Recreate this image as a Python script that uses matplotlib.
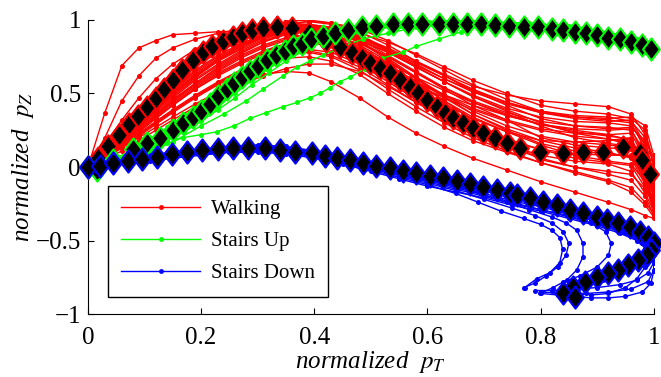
import numpy as np
import matplotlib
matplotlib.use("Agg")
import matplotlib.pyplot as plt
from matplotlib.path import Path
from matplotlib.lines import Line2D

plt.rcParams['font.family'] = ['Liberation Serif', 'DejaVu Serif']
plt.rcParams['mathtext.fontset'] = 'stix'

# ---- walking: individual trials on a shared x grid ----
x_walk = [0, 0.03, 0.06, 0.09, 0.12, 0.15, 0.19, 0.23, 0.27, 0.31, 0.35, 0.39, 0.43,
          0.48, 0.53, 0.58, 0.63, 0.68, 0.74, 0.80, 0.86, 0.92, 0.96, 0.985, 1.0]
walk_trials = [
    [0, .37, .69, .81, .86, .90, .91, .92, .92, .92, .91, .88, .83, .75, .66, .57, .49, .42, .35, .29, .25, .22, .18, .02, -.12],
    [0, .20, .45, .62, .74, .81, .87, .91, .94, .95, .95, .92, .86, .77, .66, .56, .47, .39, .31, .25, .21, .19, .15, -.02, -.18],
    [0, .12, .25, .37, .48, .58, .70, .80, .88, .95, .99, 1.0, .98, .92, .83, .72, .63, .55, .49, .45, .43, .41, .36, .22, .05],
    [0, .11, .23, .35, .46, .56, .68, .78, .86, .92, .97, .99, .97, .90, .80, .70, .60, .51, .43, .37, .34, .32, .30, .12, -.08],
    [0, .10, .21, .32, .42, .52, .64, .74, .83, .90, .95, .97, .95, .87, .76, .65, .54, .44, .35, .29, .26, .25, .26, .06, -.20],
    [0, .09, .19, .29, .39, .48, .60, .70, .79, .86, .91, .93, .91, .83, .72, .60, .49, .38, .28, .21, .17, .15, .13, -.04, -.25],
    [0, .08, .17, .26, .35, .44, .55, .65, .74, .81, .86, .88, .86, .78, .66, .54, .43, .33, .24, .18, .17, .18, .20, .00, -.30],
    [0, .07, .15, .23, .31, .39, .49, .58, .66, .73, .78, .80, .78, .70, .58, .46, .35, .25, .15, .08, .04, .02, -.03, -.18, -.30],
    [0, .06, .13, .20, .27, .34, .43, .51, .58, .63, .65, .64, .58, .47, .34, .23, .14, .06, -.02, -.10, -.17, -.24, -.29, -.33, -.35],
    [0, .10, .20, .30, .40, .50, .62, .73, .82, .89, .94, .96, .94, .88, .80, .71, .62, .53, .44, .37, .33, .31, .32, .15, -.15],
    [0, .09, .18, .27, .36, .45, .56, .66, .75, .82, .87, .90, .89, .84, .75, .64, .53, .42, .32, .20, .15, .13, .12, .02, -.10],
    [0, .08, .16, .24, .33, .42, .53, .63, .71, .78, .84, .86, .85, .80, .70, .58, .45, .32, .18, .05, .00, -.03, -.05, -.15, -.22],
    [0, .07, .14, .22, .30, .38, .48, .57, .65, .72, .77, .79, .76, .68, .56, .44, .34, .25, .18, .12, .09, .08, .08, -.10, -.28],
    [0, .11, .22, .33, .44, .54, .66, .76, .84, .90, .94, .96, .95, .91, .85, .77, .68, .59, .50, .42, .38, .36, .33, .25, .00],
    [0, .13, .27, .40, .51, .61, .72, .81, .88, .93, .96, .97, .95, .89, .79, .68, .58, .49, .40, .34, .31, .30, .28, .15, -.05],
    [0, .06, .13, .21, .29, .37, .47, .56, .64, .70, .74, .75, .72, .63, .50, .38, .27, .18, .10, .03, -.03, -.09, -.14, -.24, -.32],
    [0, .15, .32, .47, .60, .70, .80, .87, .92, .96, .98, .97, .93, .85, .75, .64, .54, .45, .37, .31, .28, .27, .25, .10, -.12],
    [0, .09, .19, .29, .39, .49, .61, .72, .81, .88, .93, .95, .94, .89, .81, .72, .62, .52, .42, .33, .28, .26, .27, .18, -.05],
    [0, .08, .17, .26, .35, .45, .57, .68, .77, .85, .91, .94, .93, .86, .74, .61, .48, .36, .25, .16, .11, .09, .07, -.08, -.26],
    [0, .07, .15, .24, .33, .42, .53, .62, .70, .77, .82, .84, .83, .77, .68, .58, .49, .40, .32, .26, .23, .22, .23, .05, -.18],
    [0, .12, .24, .36, .47, .57, .69, .79, .87, .93, .97, .99, .98, .94, .86, .76, .66, .56, .46, .38, .34, .33, .34, .28, .08],
    [0, .10, .20, .30, .40, .50, .62, .72, .80, .87, .92, .94, .92, .85, .73, .60, .47, .36, .26, .18, .13, .10, .06, -.12, -.30],
    [0, .05, .11, .18, .25, .32, .41, .49, .56, .62, .67, .70, .70, .65, .55, .44, .33, .23, .14, .06, .00, -.05, -.09, -.20, -.33],
    [0, .09, .18, .28, .38, .47, .59, .69, .78, .85, .90, .92, .91, .86, .78, .68, .58, .48, .39, .30, .23, .19, .17, .05, -.15],
    [0, .10, .21, .31, .41, .51, .63, .73, .82, .88, .92, .93, .90, .82, .70, .57, .45, .34, .24, .15, .08, .04, .02, -.10, -.22],
    [0, .08, .16, .25, .34, .43, .54, .64, .72, .79, .84, .86, .84, .76, .63, .50, .38, .28, .19, .12, .06, .03, .01, -.14, -.27],
    [0, .09, .18, .28, .37, .46, .57, .67, .76, .83, .88, .90, .88, .81, .71, .61, .52, .44, .36, .29, .24, .21, .19, -.05, -.20],
    [0, .11, .22, .33, .43, .53, .65, .75, .83, .89, .93, .95, .93, .87, .78, .68, .58, .48, .38, .28, .20, .16, .14, .00, -.16],
    [0, .07, .14, .22, .30, .38, .48, .57, .65, .71, .76, .78, .75, .66, .53, .41, .30, .20, .11, .03, -.04, -.10, -.17, -.26, -.34],
    [0, .12, .25, .38, .49, .59, .70, .79, .86, .91, .95, .96, .94, .88, .79, .69, .60, .52, .44, .38, .35, .34, .31, .20, .02],
]

# ---- stairs up: individual trials ----
x_up = [0, 0.02, 0.05, 0.08, 0.11, 0.14, 0.17, 0.2, 0.23, 0.26, 0.29, 0.32, 0.35, 0.38,
        0.42, 0.46, 0.5, 0.55, 0.6, 0.65, 0.7, 0.75, 0.8, 0.85, 0.9, 0.94, 0.97, 1.0]
up_trials = [
    [0, .01, .06, .12, .19, .27, .35, .43, .52, .61, .70, .77, .83, .87, .91, .94, .96, .98, .99, .99, .99, .98, .97, .95, .92, .89, .86, .83],
    [0, -.02, .03, .09, .15, .22, .29, .36, .44, .53, .62, .70, .77, .83, .88, .92, .95, .97, .98, .98, .98, .97, .96, .94, .91, .88, .85, .81],
    [0, -.03, .01, .06, .12, .18, .24, .31, .39, .47, .56, .64, .72, .79, .86, .90, .93, .96, .97, .97, .97, .97, .95, .93, .90, .87, .83, .79],
    [0, -.01, .04, .10, .16, .24, .32, .40, .49, .58, .66, .73, .80, .85, .89, .92, .95, .97, .98, .99, .98, .98, .97, .96, .93, .90, .86, .82],
    [0, -.02, .02, .07, .13, .19, .26, .33, .41, .50, .59, .67, .74, .80, .86, .91, .94, .96, .97, .98, .98, .97, .96, .94, .92, .89, .86, .82],
    [0, .00, .05, .11, .17, .25, .34, .42, .50, .59, .67, .74, .80, .85, .89, .93, .95, .97, .99, 1.0, .99, .98, .97, .95, .93, .90, .87, .84],
]
upA_x = [0, 0.04, 0.08, 0.11, 0.14, 0.168, 0.2, 0.228, 0.258, 0.286, 0.315, 0.345, 0.37, 0.392, 0.41, 0.428,
         0.445, 0.463, 0.49, 0.52, 0.556, 0.58, 0.62, 0.66, 0.687, 0.72, 0.78, 0.84, 0.9, 0.95, 1.0]
upA_y = [0, 0.03, 0.07, 0.11, 0.16, 0.2, 0.22, 0.24, 0.28, 0.33, 0.37, 0.41, 0.44, 0.47, 0.5, 0.54,
         0.58, 0.61, 0.67, 0.74, 0.78, 0.82, 0.87, 0.92, 0.95, 0.97, 0.98, 0.96, 0.92, 0.88, 0.84]
upB_x = [0, 0.05, 0.1, 0.15, 0.2, 0.24, 0.28, 0.31, 0.345, 0.37, 0.392, 0.415, 0.44, 0.465, 0.486,
         0.53, 0.58, 0.64, 0.7, 0.76, 0.82, 0.88, 0.93, 0.97, 1.0]
upB_y = [0, 0.03, 0.09, 0.17, 0.28, 0.36, 0.45, 0.53, 0.62, 0.68, 0.72, 0.76, 0.8, 0.84, 0.87,
         0.91, 0.95, 0.97, 0.98, 0.97, 0.95, 0.92, 0.88, 0.85, 0.81]

# ---- stairs down: individual trials ----
down_trials = [
    ([0, 0.03, 0.07, 0.11, 0.15, 0.2, 0.25, 0.3, 0.35, 0.4, 0.45, 0.5, 0.55, 0.6, 0.65, 0.7, 0.75, 0.8, 0.85, 0.9,
      0.94, 0.97, 0.99, 1.0, 0.995, 0.98, 0.96, 0.94, 0.91, 0.88, 0.85],
     [0, 0.02, 0.05, 0.08, 0.1, 0.12, 0.14, 0.15, 0.14, 0.11, 0.07, 0.03, -0.02, -0.06, -0.1, -0.14, -0.18, -0.23,
      -0.28, -0.33, -0.38, -0.43, -0.48, -0.54, -0.6, -0.65, -0.69, -0.73, -0.77, -0.81, -0.85]),
    ([0, 0.03, 0.07, 0.11, 0.15, 0.2, 0.25, 0.3, 0.35, 0.4, 0.45, 0.5, 0.55, 0.6, 0.65, 0.7, 0.75, 0.8, 0.85, 0.9,
      0.94, 0.97, 0.99, 1.0, 1.0, 0.995, 0.98, 0.95, 0.92, 0.89, 0.86, 0.83, 0.8],
     [0, 0.01, 0.03, 0.05, 0.07, 0.09, 0.11, 0.12, 0.11, 0.08, 0.04, 0.0, -0.05, -0.09, -0.13, -0.18, -0.23, -0.27,
      -0.32, -0.37, -0.42, -0.48, -0.55, -0.63, -0.71, -0.79, -0.85, -0.88, -0.89, -0.89, -0.88, -0.87, -0.86]),
    ([0, 0.03, 0.07, 0.11, 0.15, 0.2, 0.25, 0.3, 0.35, 0.4, 0.45, 0.5, 0.55, 0.6, 0.65, 0.7, 0.75, 0.8, 0.85, 0.89,
      0.93, 0.96, 0.98, 0.99, 0.985, 0.97, 0.95, 0.92, 0.89, 0.86],
     [0, 0.02, 0.04, 0.06, 0.08, 0.1, 0.12, 0.13, 0.12, 0.1, 0.06, 0.02, -0.03, -0.08, -0.12, -0.16, -0.21, -0.26,
      -0.31, -0.36, -0.41, -0.46, -0.52, -0.6, -0.68, -0.76, -0.82, -0.86, -0.87, -0.86]),
    ([0, 0.03, 0.07, 0.11, 0.15, 0.2, 0.25, 0.3, 0.35, 0.4, 0.45, 0.5, 0.55, 0.6, 0.65, 0.69, 0.73, 0.77, 0.8,
      0.82, 0.834, 0.839, 0.834, 0.816, 0.793, 0.772],
     [0, 0.01, 0.03, 0.05, 0.07, 0.09, 0.1, 0.11, 0.1, 0.07, 0.03, -0.02, -0.07, -0.12, -0.18, -0.24, -0.3, -0.35,
      -0.39, -0.43, -0.48, -0.56, -0.65, -0.72, -0.76, -0.82]),
    ([0, 0.03, 0.07, 0.11, 0.15, 0.2, 0.25, 0.3, 0.35, 0.4, 0.45, 0.5, 0.55, 0.6, 0.65, 0.7, 0.74, 0.78, 0.82,
      0.845, 0.864, 0.875, 0.875, 0.864, 0.846, 0.822, 0.799],
     [0, 0.02, 0.04, 0.07, 0.09, 0.11, 0.13, 0.14, 0.13, 0.11, 0.07, 0.02, -0.03, -0.08, -0.13, -0.19, -0.24,
      -0.29, -0.34, -0.38, -0.43, -0.52, -0.61, -0.7, -0.77, -0.82, -0.86]),
    ([0, 0.03, 0.07, 0.11, 0.15, 0.2, 0.25, 0.3, 0.35, 0.4, 0.45, 0.5, 0.55, 0.6, 0.65, 0.7, 0.75, 0.8, 0.85, 0.9,
      0.94, 0.97, 0.99, 1.0, 0.99, 0.97, 0.94, 0.9, 0.86, 0.82, 0.79],
     [0, 0.01, 0.02, 0.04, 0.06, 0.08, 0.1, 0.1, 0.09, 0.06, 0.02, -0.03, -0.08, -0.13, -0.17, -0.21, -0.26, -0.3,
      -0.35, -0.4, -0.45, -0.5, -0.57, -0.65, -0.72, -0.77, -0.8, -0.82, -0.83, -0.84, -0.84]),
    ([0, 0.03, 0.07, 0.11, 0.15, 0.2, 0.25, 0.3, 0.35, 0.4, 0.45, 0.5, 0.55, 0.6, 0.65, 0.7, 0.75, 0.8, 0.85,
      0.89, 0.915, 0.925, 0.92, 0.9, 0.87, 0.84],
     [0, 0.02, 0.05, 0.08, 0.1, 0.12, 0.13, 0.13, 0.12, 0.09, 0.05, 0.0, -0.05, -0.1, -0.15, -0.2, -0.25, -0.29,
      -0.33, -0.38, -0.44, -0.52, -0.6, -0.68, -0.74, -0.78]),
    ([0, 0.03, 0.07, 0.11, 0.15, 0.2, 0.25, 0.3, 0.35, 0.4, 0.45, 0.5, 0.55, 0.6, 0.65, 0.7, 0.75, 0.79, 0.82,
      0.84, 0.85, 0.845, 0.83, 0.81, 0.79, 0.77],
     [0, 0.01, 0.03, 0.05, 0.08, 0.1, 0.12, 0.12, 0.11, 0.08, 0.04, -0.01, -0.06, -0.11, -0.16, -0.22, -0.28,
      -0.33, -0.38, -0.44, -0.52, -0.6, -0.68, -0.74, -0.79, -0.82]),
    ([0, 0.03, 0.07, 0.11, 0.15, 0.2, 0.25, 0.3, 0.35, 0.4, 0.45, 0.5, 0.55, 0.6, 0.65, 0.7, 0.75, 0.8, 0.85, 0.9,
      0.95, 0.98, 1.0, 1.0, 0.99, 0.96, 0.92, 0.88, 0.84, 0.8],
     [0, 0.02, 0.04, 0.07, 0.09, 0.11, 0.13, 0.14, 0.13, 0.1, 0.06, 0.01, -0.04, -0.09, -0.14, -0.19, -0.24, -0.29,
      -0.34, -0.39, -0.45, -0.52, -0.6, -0.7, -0.78, -0.83, -0.85, -0.86, -0.86, -0.85]),
]

# ---- class means (black diamonds) ----
walk_mean_x = [0, 0.018, 0.036, 0.055, 0.072, 0.088, 0.104, 0.12, 0.135, 0.15,
               0.167, 0.186, 0.203, 0.22, 0.238, 0.256, 0.273, 0.29, 0.31, 0.334,
               0.36, 0.39, 0.42, 0.445, 0.466, 0.484, 0.498, 0.516, 0.534, 0.551,
               0.569, 0.583, 0.599, 0.617, 0.631, 0.645, 0.663, 0.68, 0.698, 0.719,
               0.74, 0.763, 0.799, 0.839, 0.875, 0.91, 0.945, 0.975, 0.98, 0.993]
walk_mean_y = [0, 0.06, 0.14, 0.22, 0.29, 0.35, 0.41, 0.47, 0.53, 0.59,
               0.66, 0.73, 0.78, 0.82, 0.855, 0.885, 0.91, 0.93, 0.945, 0.95,
               0.945, 0.91, 0.86, 0.816, 0.776, 0.74, 0.707, 0.673, 0.64, 0.59,
               0.544, 0.503, 0.456, 0.408, 0.367, 0.333, 0.3, 0.265, 0.231, 0.197,
               0.163, 0.129, 0.102, 0.095, 0.102, 0.102, 0.136, 0.095, 0.048, -0.05]
up_mean_x = [0, 0.016, 0.044, 0.08, 0.104, 0.127, 0.15, 0.168, 0.186, 0.2,
             0.215, 0.23, 0.245, 0.258, 0.272, 0.286, 0.3, 0.316, 0.332, 0.348,
             0.362, 0.378, 0.395, 0.415, 0.437, 0.46, 0.485, 0.51, 0.54, 0.565,
             0.59, 0.62, 0.645, 0.67, 0.695, 0.72, 0.745, 0.77, 0.795, 0.82,
             0.84, 0.86, 0.88, 0.9, 0.92, 0.94, 0.96, 0.98, 0.995]
up_mean_y = [0, -0.02, 0.05, 0.12, 0.16, 0.2, 0.25, 0.3, 0.34, 0.38,
             0.43, 0.48, 0.53, 0.57, 0.61, 0.65, 0.69, 0.73, 0.76, 0.79,
             0.82, 0.84, 0.87, 0.89, 0.91, 0.93, 0.95, 0.96, 0.97, 0.975,
             0.975, 0.975, 0.975, 0.975, 0.97, 0.965, 0.96, 0.955, 0.95, 0.94,
             0.93, 0.92, 0.91, 0.9, 0.88, 0.87, 0.85, 0.83, 0.80]
down_mean_x = [0, 0.021, 0.044, 0.071, 0.095, 0.122, 0.148, 0.175, 0.201, 0.23,
               0.256, 0.283, 0.313, 0.339, 0.366, 0.396, 0.419, 0.44, 0.463, 0.486,
               0.51, 0.534, 0.557, 0.58, 0.604, 0.627, 0.652, 0.675, 0.698, 0.723,
               0.746, 0.758, 0.781, 0.804, 0.829, 0.852, 0.875, 0.899, 0.917, 0.936,
               0.958, 0.975, 0.989, 1.0, 0.996, 0.988, 0.972, 0.954, 0.936, 0.919,
               0.899, 0.878, 0.857, 0.839, 0.86]
down_mean_y = [0, 0.01, 0.025, 0.04, 0.055, 0.07, 0.09, 0.1, 0.115, 0.125,
               0.13, 0.13, 0.128, 0.118, 0.105, 0.092, 0.078, 0.062, 0.045, 0.028,
               0.01, -0.008, -0.025, -0.042, -0.06, -0.078, -0.096, -0.114, -0.134, -0.155,
               -0.175, -0.188, -0.21, -0.235, -0.26, -0.29, -0.313, -0.34, -0.36, -0.38,
               -0.408, -0.442, -0.476, -0.517, -0.565, -0.6, -0.633, -0.667, -0.7, -0.722,
               -0.748, -0.782, -0.816, -0.857, -0.884]

labels = ['Walking', 'Stairs Up', 'Stairs Down']
colors = ['#ff0000', '#00ff00', '#0000ff']

# tall diamond like the matlab marker
diamond = Path([(0, 1), (0.76, 0), (0, -1), (-0.76, 0), (0, 1)],
               [Path.MOVETO, Path.LINETO, Path.LINETO, Path.LINETO, Path.CLOSEPOLY])

fig = plt.figure(figsize=(6.61, 3.77), dpi=100)
ax = fig.add_axes([0.133, 0.167, 0.856, 0.78])

trial_kw = dict(lw=1.0, marker='o', ms=3.6, mew=0, zorder=2)
for yy in walk_trials:
    ax.plot(x_walk, yy, color=colors[0], **trial_kw)
for yy in up_trials:
    ax.plot(x_up, yy, color=colors[1], **trial_kw)
ax.plot(upA_x, upA_y, color=colors[1], **trial_kw)
ax.plot(upB_x, upB_y, color=colors[1], **trial_kw)
for xx, yy in down_trials:
    ax.plot(xx, yy, color=colors[2], **trial_kw)

mean_kw = dict(ls='none', marker=diamond, ms=16, mfc='black', mew=1.5, clip_on=False, zorder=4)
ax.plot(walk_mean_x, walk_mean_y, mec=colors[0], **mean_kw)
ax.plot(up_mean_x, up_mean_y, mec=colors[1], **mean_kw)
ax.plot(down_mean_x, down_mean_y, mec=colors[2], **mean_kw)

ax.set_xlim(0, 1)
ax.set_ylim(-1, 1)
ax.set_xticks([0, 0.2, 0.4, 0.6, 0.8, 1])
ax.set_xticklabels(['0', '0.2', '0.4', '0.6', '0.8', '1'])
ax.set_yticks([-1, -0.5, 0, 0.5, 1])
ax.set_yticklabels(['\u22121', '\u22120.5', '0', '0.5', '1'])
ax.tick_params(direction='in', length=4, width=0.8, labelsize=18)
ax.tick_params(axis='x', pad=9)
ax.tick_params(axis='y', pad=5)
for s in ['top', 'right']:
    ax.spines[s].set_visible(False)
for s in ['left', 'bottom']:
    ax.spines[s].set_linewidth(0.8)

ax.set_xlabel('normalized  $p_T$', fontsize=18, fontstyle='italic', labelpad=0)
ax.set_ylabel('normalized  $p_Z$', fontsize=18, fontstyle='italic', labelpad=0)

handles = [Line2D([], [], color=c, lw=1, marker='o', ms=3.5, mew=0) for c in colors]
leg = ax.legend(handles, labels, loc='upper left', bbox_to_anchor=(0.035, 0.435),
                borderaxespad=0, fontsize=15, handlelength=3.8, handletextpad=0.5,
                labelspacing=0.6, borderpad=0.65, fancybox=False, framealpha=1,
                edgecolor='black', markerscale=1)
leg.get_frame().set_linewidth(1.0)
leg.set_zorder(5)

fig.savefig('out.png', dpi=100)
